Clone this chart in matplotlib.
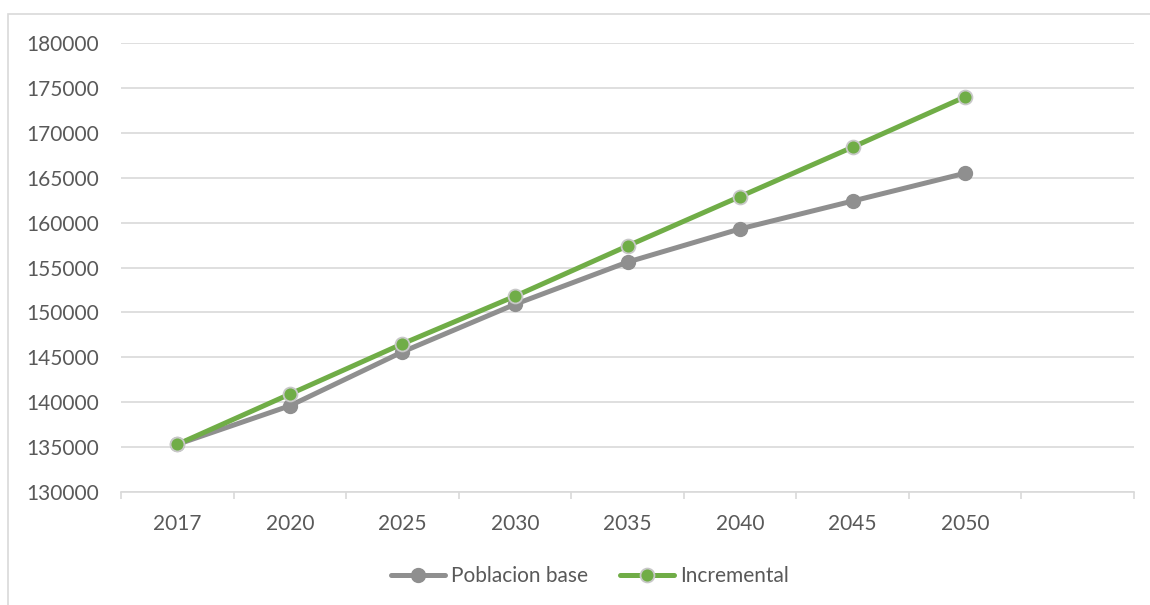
import matplotlib
matplotlib.use("Agg")
import matplotlib.pyplot as plt
from matplotlib.patches import Rectangle
from matplotlib.ticker import FixedLocator, NullFormatter

# Population projections by year
years = ["2017", "2020", "2025", "2030", "2035", "2040", "2045", "2050", ""]
poblacion_base = [135300, 139600, 145600, 150900, 155600, 159300, 162400, 165500]
incremental = [135300, 140900, 146500, 151800, 157400, 162900, 168400, 174000]

TEXT = "#595959"
GRID = "#d9d9d9"
GRAY = "#8f8f8f"
GREEN = "#70ad47"

plt.rcParams["font.family"] = ["Lato", "DejaVu Sans"]

fig = plt.figure(figsize=(11.5, 6.05), dpi=100)
fig.patch.set_facecolor("white")

# chart-area outline
fig.patches.append(Rectangle((8 / 1150, -0.1), 1.2, 1 - 14 / 605 + 0.1,
                             transform=fig.transFigure, fill=False,
                             edgecolor=GRID, linewidth=1.2))

ax = fig.add_axes([121 / 1150, 1 - 492 / 605, (1134 - 121) / 1150, (492 - 43) / 605])

x = list(range(len(poblacion_base)))
ax.plot(x, poblacion_base, color=GRAY, linewidth=3.6, marker="o", markersize=10,
        markerfacecolor=GRAY, markeredgecolor=GRAY, label="Poblacion base",
        solid_capstyle="round", zorder=3)
ax.plot(x, incremental, color=GREEN, linewidth=3.6, marker="o", markersize=10,
        markerfacecolor=GREEN, markeredgecolor="#c8c8c8", markeredgewidth=1.3,
        label="Incremental", solid_capstyle="round", zorder=4)

ax.set_xlim(-0.5, len(years) - 0.5)
ax.set_ylim(130000, 180000)
ax.set_yticks(range(130000, 180001, 5000))
ax.yaxis.grid(True, color=GRID, linewidth=1.2)
ax.set_axisbelow(True)

ax.set_xticks(range(len(years)))
ax.set_xticklabels(years)
ax.xaxis.set_minor_locator(FixedLocator([i - 0.5 for i in range(len(years) + 1)]))
ax.xaxis.set_minor_formatter(NullFormatter())
ax.tick_params(axis="x", which="major", length=0, pad=16, labelsize=15, labelcolor=TEXT)
ax.tick_params(axis="x", which="minor", length=5, width=1.2, color=GRID)
ax.tick_params(axis="y", length=0, pad=16, labelsize=15, labelcolor=TEXT)

for side in ("top", "right", "left"):
    ax.spines[side].set_visible(False)
ax.spines["bottom"].set_color(GRID)
ax.spines["bottom"].set_linewidth(1.2)

fig.legend(loc="center", bbox_to_anchor=(590 / 1150, 1 - 576 / 605), ncol=2,
           frameon=False, fontsize=15, labelcolor=TEXT, handlelength=2.6,
           handletextpad=0.3, columnspacing=1.5)

fig.savefig("out.png", dpi=100, facecolor="white")
